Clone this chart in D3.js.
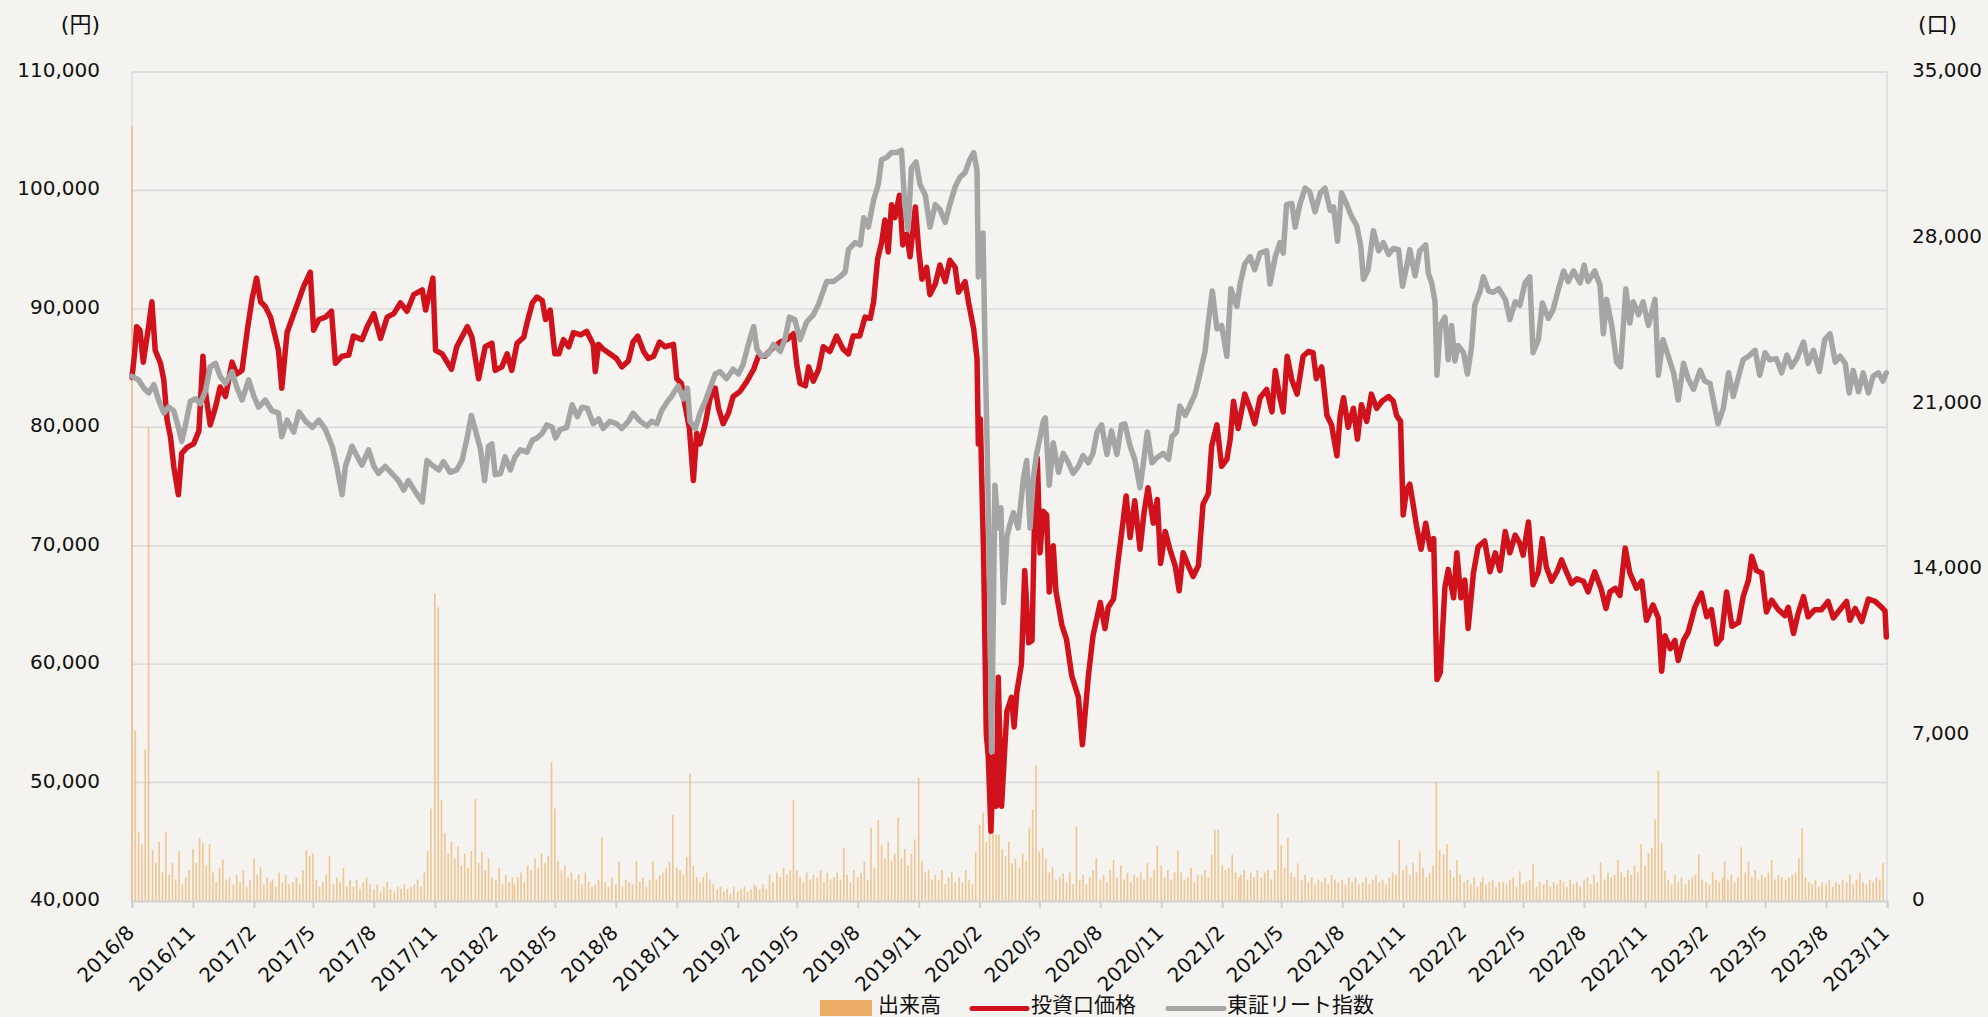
<!DOCTYPE html>
<html><head><meta charset="utf-8">
<script src="https://cdn.jsdelivr.net/npm/d3@7"></script>
<style>
html,body{margin:0;padding:0;background:#f4f3ef;}
svg{display:block;}
</style></head><body>
<svg id="chart" width="1988" height="1017"></svg>
<script>
// ---- data ----
const xTickLabels = ["2016/8","2016/11","2017/2","2017/5","2017/8","2017/11","2018/2","2018/5","2018/8","2018/11","2019/2","2019/5","2019/8","2019/11","2020/2","2020/5","2020/8","2020/11","2021/2","2021/5","2021/8","2021/11","2022/2","2022/5","2022/8","2022/11","2023/2","2023/5","2023/8","2023/11"];
const leftTicks = [40000,50000,60000,70000,80000,90000,100000,110000];
const rightTicks = [0,7000,14000,21000,28000,35000];
const legendLabels = ["出来高","投資口価格","東証リート指数"];

// 投資口価格 (円)
const priceSeries = [["2016-08-01",84200],["2016-08-05",86300],["2016-08-08",88500],["2016-08-13",88200],["2016-08-18",85500],["2016-08-26",88500],["2016-08-31",90600],["2016-09-05",86500],["2016-09-13",85400],["2016-09-18",84000],["2016-09-23",80600],["2016-09-28",79200],["2016-10-03",76700],["2016-10-10",74300],["2016-10-15",77800],["2016-10-23",78300],["2016-11-02",78600],["2016-11-10",79700],["2016-11-16",86000],["2016-11-20",82900],["2016-11-27",80200],["2016-12-05",81700],["2016-12-12",83400],["2016-12-20",82600],["2016-12-30",85500],["2017-01-06",84500],["2017-01-14",84800],["2017-01-22",88200],["2017-01-29",90800],["2017-02-05",92600],["2017-02-11",90600],["2017-02-18",90200],["2017-02-26",89300],["2017-03-05",87700],["2017-03-10",86500],["2017-03-15",83300],["2017-03-23",88000],["2017-03-30",89100],["2017-04-10",90800],["2017-04-17",91900],["2017-04-27",93100],["2017-05-02",88200],["2017-05-10",89100],["2017-05-20",89300],["2017-05-29",89800],["2017-06-04",85400],["2017-06-14",86000],["2017-06-24",86100],["2017-07-01",87700],["2017-07-14",87400],["2017-07-22",88500],["2017-08-01",89600],["2017-08-11",87500],["2017-08-21",89300],["2017-08-31",89600],["2017-09-10",90500],["2017-09-20",89800],["2017-09-30",91200],["2017-10-13",91600],["2017-10-18",89900],["2017-10-29",92600],["2017-11-02",86500],["2017-11-12",86200],["2017-11-26",84900],["2017-12-04",86800],["2017-12-20",88500],["2017-12-27",87600],["2018-01-06",84100],["2018-01-16",86800],["2018-01-26",87100],["2018-01-31",84800],["2018-02-10",85100],["2018-02-18",86200],["2018-02-25",84800],["2018-03-05",87100],["2018-03-15",87600],["2018-03-20",88800],["2018-03-28",90500],["2018-04-04",91000],["2018-04-12",90700],["2018-04-17",89100],["2018-04-24",89900],["2018-05-01",86200],["2018-05-07",86200],["2018-05-14",87400],["2018-05-22",86800],["2018-05-29",88000],["2018-06-09",87800],["2018-06-18",88100],["2018-06-28",87000],["2018-07-01",84700],["2018-07-06",87000],["2018-07-13",86600],["2018-07-23",86200],["2018-08-02",85800],["2018-08-10",85100],["2018-08-20",85600],["2018-08-27",87200],["2018-09-03",87700],["2018-09-12",86400],["2018-09-19",85800],["2018-09-27",86000],["2018-10-06",87200],["2018-10-14",86800],["2018-10-27",87000],["2018-11-01",84100],["2018-11-08",83700],["2018-11-13",82000],["2018-11-20",79900],["2018-11-26",75500],["2018-12-01",79500],["2018-12-06",78600],["2018-12-14",80300],["2018-12-21",82400],["2018-12-29",83300],["2019-01-03",81600],["2019-01-10",80300],["2019-01-18",81200],["2019-01-25",82600],["2019-02-04",83000],["2019-02-15",83900],["2019-02-25",84900],["2019-03-04",86000],["2019-03-14",86000],["2019-03-24",86600],["2019-04-06",87200],["2019-04-16",87400],["2019-04-26",87900],["2019-05-01",85300],["2019-05-06",83700],["2019-05-14",83500],["2019-05-19",85100],["2019-05-26",83900],["2019-06-03",84900],["2019-06-10",86800],["2019-06-20",86400],["2019-06-30",87700],["2019-07-10",86600],["2019-07-18",86200],["2019-07-25",87700],["2019-08-04",87700],["2019-08-12",89300],["2019-08-20",89200],["2019-08-25",90600],["2019-08-31",94200],["2019-09-06",95600],["2019-09-11",97500],["2019-09-16",94800],["2019-09-21",98800],["2019-09-26",97700],["2019-10-03",99600],["2019-10-08",95400],["2019-10-14",96300],["2019-10-19",94400],["2019-10-27",98600],["2019-11-01",95000],["2019-11-06",92500],["2019-11-13",93500],["2019-11-18",91200],["2019-11-26",92100],["2019-12-03",93700],["2019-12-11",92300],["2019-12-18",94100],["2019-12-26",93500],["2019-12-31",91400],["2020-01-10",92300],["2020-01-15",90600],["2020-01-23",88300],["2020-01-28",85800],["2020-01-30",78600],["2020-02-02",80700],["2020-02-07",69000],["2020-02-11",54100],["2020-02-14",52200],["2020-02-18",45900],["2020-02-22",52200],["2020-02-26",48000],["2020-02-29",58900],["2020-03-05",48000],["2020-03-13",56000],["2020-03-20",57200],["2020-03-24",54700],["2020-03-28",57600],["2020-04-04",60000],["2020-04-09",67900],["2020-04-15",61800],["2020-04-20",62000],["2020-04-25",75700],["2020-04-28",77400],["2020-05-02",69400],["2020-05-07",72900],["2020-05-12",72600],["2020-05-16",66100],["2020-05-22",70000],["2020-05-26",66200],["2020-06-04",63300],["2020-06-11",62100],["2020-06-19",59000],["2020-06-29",57200],["2020-07-05",53200],["2020-07-14",59000],["2020-07-21",62400],["2020-08-01",65200],["2020-08-08",63000],["2020-08-13",64800],["2020-08-21",65500],["2020-08-28",68800],["2020-09-02",71000],["2020-09-09",74200],["2020-09-15",70700],["2020-09-22",73800],["2020-09-30",69700],["2020-10-06",72800],["2020-10-12",74900],["2020-10-20",71900],["2020-10-26",73900],["2020-10-31",68500],["2020-11-07",71200],["2020-11-14",69700],["2020-11-22",68300],["2020-11-28",66200],["2020-12-04",69400],["2020-12-12",68300],["2020-12-19",67400],["2020-12-27",68300],["2021-01-03",73500],["2021-01-11",74400],["2021-01-16",78400],["2021-01-24",80200],["2021-01-31",76700],["2021-02-08",77300],["2021-02-13",79000],["2021-02-18",82200],["2021-02-25",79900],["2021-03-07",82800],["2021-03-15",81600],["2021-03-22",80300],["2021-03-30",82500],["2021-04-09",83200],["2021-04-17",81300],["2021-04-22",84800],["2021-04-29",82500],["2021-05-04",81300],["2021-05-10",86000],["2021-05-17",84000],["2021-05-25",82800],["2021-06-03",86000],["2021-06-11",86400],["2021-06-18",86300],["2021-06-23",84100],["2021-07-01",85100],["2021-07-09",81000],["2021-07-16",80200],["2021-07-24",77600],["2021-07-29",81000],["2021-08-03",82500],["2021-08-10",80000],["2021-08-18",81600],["2021-08-24",79000],["2021-08-30",81900],["2021-09-07",80500],["2021-09-14",82800],["2021-09-22",81600],["2021-09-30",82200],["2021-10-10",82600],["2021-10-17",82200],["2021-10-22",81000],["2021-10-28",80500],["2021-11-01",72600],["2021-11-06",74700],["2021-11-11",75200],["2021-11-16",73500],["2021-11-21",71700],["2021-11-28",69700],["2021-12-05",71900],["2021-12-12",69700],["2021-12-17",70600],["2021-12-22",58700],["2021-12-27",59300],["2022-01-03",66500],["2022-01-08",68000],["2022-01-16",65600],["2022-01-21",69400],["2022-01-27",65600],["2022-02-02",67100],["2022-02-07",63000],["2022-02-15",67700],["2022-02-22",69900],["2022-03-04",70400],["2022-03-12",67800],["2022-03-20",69400],["2022-03-27",67900],["2022-04-04",71200],["2022-04-11",69400],["2022-04-19",70900],["2022-04-26",70200],["2022-05-01",69200],["2022-05-09",72000],["2022-05-16",66700],["2022-05-24",67800],["2022-05-30",70600],["2022-06-05",68200],["2022-06-13",67000],["2022-06-21",67800],["2022-06-28",68800],["2022-07-06",67700],["2022-07-13",66800],["2022-07-21",67200],["2022-07-31",67000],["2022-08-07",66100],["2022-08-17",67800],["2022-08-27",66300],["2022-09-03",64700],["2022-09-09",66100],["2022-09-17",66400],["2022-09-24",65800],["2022-10-02",69800],["2022-10-09",67700],["2022-10-19",66400],["2022-10-27",67000],["2022-11-03",63700],["2022-11-13",65000],["2022-11-21",63900],["2022-11-26",59400],["2022-12-01",62400],["2022-12-09",61300],["2022-12-16",62000],["2022-12-21",60300],["2022-12-29",62000],["2023-01-05",62700],["2023-01-15",64800],["2023-01-25",66000],["2023-02-02",64000],["2023-02-09",64600],["2023-02-17",61700],["2023-02-24",62200],["2023-03-04",66100],["2023-03-12",63200],["2023-03-22",63500],["2023-03-29",65700],["2023-04-06",67100],["2023-04-11",69100],["2023-04-18",67900],["2023-04-26",67700],["2023-05-03",64400],["2023-05-11",65400],["2023-05-21",64600],["2023-05-31",64100],["2023-06-05",64800],["2023-06-13",62600],["2023-06-20",64300],["2023-06-28",65700],["2023-07-05",64000],["2023-07-15",64600],["2023-07-25",64600],["2023-08-04",65300],["2023-08-12",63900],["2023-08-22",64600],["2023-09-01",65300],["2023-09-06",63700],["2023-09-14",64700],["2023-09-24",63600],["2023-10-04",65500],["2023-10-14",65300],["2023-10-24",64800],["2023-10-29",64500],["2023-10-31",62300]];

// 東証リート指数 (投資口価格に合わせて指数化)
const reitSeries = [["2016-08-01",84300],["2016-08-11",84000],["2016-08-19",83300],["2016-08-26",82900],["2016-09-03",83600],["2016-09-10",82300],["2016-09-18",81200],["2016-09-25",81700],["2016-10-03",81400],["2016-10-10",80000],["2016-10-15",78800],["2016-10-20",80000],["2016-10-28",82200],["2016-11-05",82400],["2016-11-12",82000],["2016-11-20",83100],["2016-11-27",85100],["2016-12-05",85400],["2016-12-12",84300],["2016-12-20",83700],["2016-12-30",84700],["2017-01-06",83400],["2017-01-14",82300],["2017-01-24",84000],["2017-02-01",82600],["2017-02-08",81700],["2017-02-18",82300],["2017-02-28",81400],["2017-03-10",81200],["2017-03-15",79200],["2017-03-23",80600],["2017-04-02",79600],["2017-04-10",81300],["2017-04-20",80500],["2017-04-30",80000],["2017-05-10",80600],["2017-05-20",79800],["2017-05-30",78400],["2017-06-06",76700],["2017-06-14",74300],["2017-06-19",76700],["2017-06-29",78400],["2017-07-07",77500],["2017-07-14",76800],["2017-07-24",78100],["2017-08-01",76700],["2017-08-08",76100],["2017-08-18",76700],["2017-08-28",76100],["2017-09-07",75500],["2017-09-15",74700],["2017-09-22",75500],["2017-10-03",74500],["2017-10-13",73700],["2017-10-20",77200],["2017-10-28",76800],["2017-11-07",76400],["2017-11-14",77100],["2017-11-24",76200],["2017-12-04",76400],["2017-12-12",77200],["2017-12-20",79200],["2017-12-26",81000],["2018-01-01",79800],["2018-01-09",78100],["2018-01-15",75500],["2018-01-21",78400],["2018-01-26",78600],["2018-01-31",76000],["2018-02-08",76100],["2018-02-15",77500],["2018-02-23",76400],["2018-03-02",77500],["2018-03-10",78100],["2018-03-20",77900],["2018-03-28",78900],["2018-04-04",79100],["2018-04-12",79500],["2018-04-19",80200],["2018-04-27",80000],["2018-05-02",79100],["2018-05-09",79800],["2018-05-19",80000],["2018-05-27",81900],["2018-06-04",80900],["2018-06-11",81700],["2018-06-19",81600],["2018-06-28",80300],["2018-07-06",80700],["2018-07-13",79900],["2018-07-23",80500],["2018-08-02",80300],["2018-08-10",79900],["2018-08-20",80500],["2018-08-27",81200],["2018-09-07",80500],["2018-09-17",80100],["2018-09-24",80500],["2018-10-02",80300],["2018-10-09",81400],["2018-10-17",82100],["2018-10-24",82600],["2018-11-03",83500],["2018-11-11",82400],["2018-11-17",83300],["2018-11-21",80500],["2018-11-29",79900],["2018-12-06",81200],["2018-12-14",82200],["2018-12-21",83300],["2018-12-29",84500],["2019-01-05",84700],["2019-01-15",84100],["2019-01-25",84900],["2019-02-02",84500],["2019-02-09",85300],["2019-02-17",87000],["2019-02-25",88500],["2019-03-02",86600],["2019-03-09",86000],["2019-03-19",86200],["2019-03-27",87000],["2019-04-06",86400],["2019-04-13",87400],["2019-04-20",89300],["2019-04-28",89100],["2019-05-06",87400],["2019-05-16",88900],["2019-05-26",89500],["2019-06-03",90400],["2019-06-08",91200],["2019-06-15",92300],["2019-06-25",92300],["2019-07-05",92700],["2019-07-13",93100],["2019-07-18",95000],["2019-07-28",95600],["2019-08-05",95400],["2019-08-10",97700],["2019-08-17",96900],["2019-08-25",99200],["2019-09-01",100500],["2019-09-06",102600],["2019-09-14",102800],["2019-09-21",103200],["2019-09-29",103200],["2019-10-06",103400],["2019-10-11",98800],["2019-10-16",96700],["2019-10-21",101900],["2019-10-28",102400],["2019-11-03",100500],["2019-11-11",99600],["2019-11-18",96900],["2019-11-26",98800],["2019-12-03",98400],["2019-12-11",97300],["2019-12-18",98800],["2019-12-26",100300],["2020-01-02",101100],["2020-01-10",101500],["2020-01-17",102600],["2020-01-23",103200],["2020-01-28",101700],["2020-01-30",92700],["2020-02-06",96400],["2020-02-09",87000],["2020-02-12",79100],["2020-02-16",67300],["2020-02-19",52600],["2020-02-24",75100],["2020-02-29",71500],["2020-03-04",73200],["2020-03-08",65200],["2020-03-13",70700],["2020-03-18",71900],["2020-03-23",72800],["2020-03-30",71500],["2020-04-07",75700],["2020-04-12",77200],["2020-04-17",71500],["2020-04-22",75700],["2020-04-27",77800],["2020-05-02",79100],["2020-05-07",80500],["2020-05-10",80800],["2020-05-16",75100],["2020-05-22",78700],["2020-05-30",76200],["2020-06-06",77800],["2020-06-14",77000],["2020-06-21",76100],["2020-06-29",76700],["2020-07-06",77600],["2020-07-14",77000],["2020-07-21",77800],["2020-07-27",79600],["2020-08-03",80200],["2020-08-11",77700],["2020-08-18",79700],["2020-08-26",77700],["2020-09-02",80200],["2020-09-07",80300],["2020-09-15",78400],["2020-09-22",77300],["2020-09-30",74900],["2020-10-05",77000],["2020-10-11",79600],["2020-10-18",77000],["2020-10-25",77400],["2020-11-04",77800],["2020-11-12",77300],["2020-11-17",79200],["2020-11-24",79600],["2020-11-29",81800],["2020-12-07",81000],["2020-12-14",81800],["2020-12-22",82800],["2020-12-29",84400],["2021-01-06",86400],["2021-01-11",88900],["2021-01-17",91500],["2021-01-24",88300],["2021-01-31",88600],["2021-02-08",86000],["2021-02-14",91700],["2021-02-23",90200],["2021-02-28",92100],["2021-03-07",93800],["2021-03-15",94400],["2021-03-22",93300],["2021-03-30",94700],["2021-04-09",94900],["2021-04-14",92100],["2021-04-22",94400],["2021-04-29",95600],["2021-05-04",94700],["2021-05-09",98800],["2021-05-17",98900],["2021-05-22",96900],["2021-05-29",98800],["2021-06-06",100200],["2021-06-13",99900],["2021-06-21",98200],["2021-06-29",99800],["2021-07-06",100200],["2021-07-14",98300],["2021-07-19",98600],["2021-07-25",95700],["2021-07-31",99800],["2021-08-08",98800],["2021-08-15",97800],["2021-08-23",97000],["2021-08-29",95300],["2021-09-02",92500],["2021-09-09",93300],["2021-09-17",96600],["2021-09-25",94900],["2021-10-02",95600],["2021-10-10",94600],["2021-10-17",95100],["2021-10-25",95000],["2021-10-31",91900],["2021-11-06",93500],["2021-11-11",95000],["2021-11-19",92800],["2021-11-26",94900],["2021-12-05",95400],["2021-12-09",93000],["2021-12-14",92200],["2021-12-19",90600],["2021-12-22",84400],["2021-12-27",88600],["2022-01-03",89300],["2022-01-08",85700],["2022-01-13",88600],["2022-01-18",85600],["2022-01-23",86900],["2022-01-31",86300],["2022-02-06",84500],["2022-02-12",86700],["2022-02-17",90300],["2022-02-25",91500],["2022-03-02",92700],["2022-03-10",91500],["2022-03-17",91400],["2022-03-25",91700],["2022-04-04",90800],["2022-04-11",89100],["2022-04-19",90600],["2022-04-26",90300],["2022-05-04",92200],["2022-05-11",92700],["2022-05-16",86300],["2022-05-24",87400],["2022-05-30",90500],["2022-06-08",89200],["2022-06-15",89900],["2022-06-23",91600],["2022-07-01",93200],["2022-07-08",92300],["2022-07-16",93200],["2022-07-26",92200],["2022-08-01",93700],["2022-08-07",92300],["2022-08-17",93200],["2022-08-25",92000],["2022-08-30",87900],["2022-09-04",90800],["2022-09-12",88500],["2022-09-19",85500],["2022-09-25",85100],["2022-10-03",91700],["2022-10-09",88800],["2022-10-14",90600],["2022-10-22",89500],["2022-10-29",90600],["2022-11-06",88600],["2022-11-16",90800],["2022-11-21",84400],["2022-11-28",87400],["2022-12-06",86000],["2022-12-14",84600],["2022-12-21",82300],["2022-12-29",85400],["2023-01-05",84100],["2023-01-13",83200],["2023-01-23",84800],["2023-01-30",83900],["2023-02-07",83700],["2023-02-14",81700],["2023-02-19",80300],["2023-02-27",81600],["2023-03-07",84600],["2023-03-14",82600],["2023-03-22",84300],["2023-03-29",85700],["2023-04-06",86000],["2023-04-16",86500],["2023-04-23",84400],["2023-05-01",86300],["2023-05-08",85700],["2023-05-18",85800],["2023-05-26",84600],["2023-06-03",86100],["2023-06-10",85100],["2023-06-18",85800],["2023-06-28",87200],["2023-07-05",85400],["2023-07-13",86500],["2023-07-22",84700],["2023-07-30",87400],["2023-08-07",87900],["2023-08-15",85500],["2023-08-22",86000],["2023-08-30",85400],["2023-09-05",82900],["2023-09-11",84800],["2023-09-19",83000],["2023-09-26",84600],["2023-10-04",82900],["2023-10-11",84300],["2023-10-19",84600],["2023-10-26",83900],["2023-10-31",84600]];

// 出来高 (口): months and six readings per month (about every 5 days)
const volumeMonths = ["2016-08","2016-09","2016-10","2016-11","2016-12","2017-01","2017-02","2017-03","2017-04","2017-05","2017-06","2017-07","2017-08","2017-09","2017-10","2017-11","2017-12","2018-01","2018-02","2018-03","2018-04","2018-05","2018-06","2018-07","2018-08","2018-09","2018-10","2018-11","2018-12","2019-01","2019-02","2019-03","2019-04","2019-05","2019-06","2019-07","2019-08","2019-09","2019-10","2019-11","2019-12","2020-01","2020-02","2020-03","2020-04","2020-05","2020-06","2020-07","2020-08","2020-09","2020-10","2020-11","2020-12","2021-01","2021-02","2021-03","2021-04","2021-05","2021-06","2021-07","2021-08","2021-09","2021-10","2021-11","2021-12","2022-01","2022-02","2022-03","2022-04","2022-05","2022-06","2022-07","2022-08","2022-09","2022-10","2022-11","2022-12","2023-01","2023-02","2023-03","2023-04","2023-05","2023-06","2023-07","2023-08","2023-09","2023-10"];
const volumeByMonth = [
[32700,7200,2900,2400,6400,20000],[2150,1600,2500,1200,2930,1100],[1600,900,2100,700,1000,1300],[2200,1600,2650,2450,1500,2400],[1200,800,1400,1750,900,1000],
[700,1100,800,1300,600,900],[1800,1100,1420,700,1000,800],[900,600,1200,800,1100,700],[800,1000,700,1300,2150,1900],[2000,900,600,800,1100,1900],[700,1000,800,1400,600,900],[600,900,500,800,1000,700],[500,700,400,600,800,500],[400,600,500,700,500,600],[700,900,600,1200,2100,3900],[13000,12400,4260,2870,2000,2500],[1800,2300,1500,2000,1400,2100],
[4300,1600,2080,1300,1800,1000],[900,1400,700,1100,800,1000],[700,1000,1200,800,1500,1300],[1800,1400,2000,1600,1900,5880],[3900,1700,1300,1500,1000,1200],[900,1100,700,1200,800,600],[700,900,2710,800,600,1000],[700,1650,600,900,800,700],[1700,800,1000,600,900,1690],[900,1100,1200,1400,1650,3630],[1400,1300,1100,1860,5360,1500],[1000,800,1000,1200,900,700],
[500,600,400,500,300,600],[400,500,600,400,500,700],[600,500,700,500,1100,800],[1200,1000,1400,1100,1300,4260],[1300,1000,800,1200,900,1100],[1000,1300,800,1200,900,1000],[1200,900,2250,1100,800,1300],[1000,1200,1650,900,3100,1400],[3420,2360,1800,2500,1700,2000],[3520,1800,2200,1500,2000,2600],[5200,1700,1200,1300,900,1100],[900,1300,700,1000,1200,800],
[1000,800,1300,900,700,2060],[3210,3730,2500,3000,3420,2800],[2800,2200,1900,2500,1600,1800],[1400,2000,1700,3100,3860,5740],[2090,2230,1800,1200,1420,900],[1000,1160,800,1200,700,3150],[900,1100,700,1000,1300,1800],[900,1100,800,1300,1730,1000],[1500,900,1200,800,1100,1000],[1200,900,1600,1000,1300,2330],[1500,1000,1300,900,1200,2120],[1200,900,1000,1400,800,1100],
[1100,1300,1000,1950,3000,3000],[1500,1300,1400,1950,1200,1000],[1100,1300,900,1200,1000,1300],[1000,1200,1300,900,1300,3680],[2370,1400,2660,1200,1000,1590],[900,1100,800,1000,700,900],[800,1000,700,1100,900,800],[900,700,1000,800,1000,700],[800,1000,700,900,1100,800],[900,700,1000,1200,1100,2580],[1300,1500,1100,1600,1200,2090],[1400,1000,1200,1500,5040,2160],
[1950,2400,1300,1000,1730,1100],[800,900,700,1000,600,800],[1020,700,800,900,600,800],[800,700,900,1000,600,1260],[700,800,900,1550,600,800],[700,900,600,800,700,900],[800,600,900,700,800,600],[900,1000,700,1100,800,1630],[900,1200,1000,1100,1730,1200],[1000,1300,1100,1500,1200,2400],[1500,2020,2240,3440,5500,2440],[1270,900,700,1100,800,1000],
[700,900,1000,1100,1940,900],[800,700,1240,900,800,1000],[1650,900,1100,800,1000,2270],[1200,1650,1000,1300,900,1100],[1000,1200,1730,900,1100,1000],[900,1000,1100,1200,1800,3080],[1000,800,700,900,600,800],[700,890,600,800,700,900],[800,1110,700,900,1180,800],[700,900,800,1000,900,1600]
];

// ---- chart ----
const svg = d3.select("#chart");
const plot = {left:132, right:1887, top:72, bottom:901};
const parseDay = d3.timeParse("%Y-%m-%d");
const parseLabel = d3.timeParse("%Y/%m");
const parseMonth = d3.timeParse("%Y-%m");
const tickDates = xTickLabels.map(parseLabel);

const x = d3.scaleTime().domain([tickDates[0], tickDates[tickDates.length-1]]).range([plot.left, plot.right]);
const yL = d3.scaleLinear().domain([leftTicks[0], leftTicks[leftTicks.length-1]]).range([plot.bottom, plot.top]);
const yR = d3.scaleLinear().domain([rightTicks[0], rightTicks[rightTicks.length-1]]).range([plot.bottom, plot.top]);

const gridColor = "#d8d8d8";
const numFont = "'DejaVu Sans', Verdana, sans-serif";
const jpFont = "'Noto Sans CJK JP', 'Noto Sans', sans-serif";

// background
svg.append("rect").attr("width",1988).attr("height",1017).attr("fill","#f4f3ef");

// gridlines
svg.append("g").selectAll("line").data(leftTicks.slice(1)).join("line")
  .attr("x1", plot.left).attr("x2", plot.right)
  .attr("y1", d => yL(d)).attr("y2", d => yL(d))
  .attr("stroke", gridColor).attr("stroke-width", 1.4);
// frame verticals
svg.append("line").attr("x1",plot.left).attr("x2",plot.left).attr("y1",plot.top).attr("y2",plot.bottom)
  .attr("stroke",gridColor).attr("stroke-width",1.4);
svg.append("line").attr("x1",plot.right).attr("x2",plot.right).attr("y1",plot.top).attr("y2",plot.bottom)
  .attr("stroke",gridColor).attr("stroke-width",1.4);

// volume bars
const volData = [];
volumeMonths.forEach((m, i) => {
  const start = parseMonth(m);
  volumeByMonth[i].forEach((v, j) => {
    volData.push({date: d3.timeDay.offset(start, j*5), v});
  });
});
svg.append("g").selectAll("rect").data(volData).join("rect")
  .attr("x", d => x(d.date) - 0.8)
  .attr("width", 1.6)
  .attr("y", d => yR(d.v))
  .attr("height", d => plot.bottom - yR(d.v))
  .attr("fill", "#eeb06a").attr("fill-opacity", 0.7);

// lines
const line = d3.line().x(d => x(parseDay(d[0]))).y(d => yL(d[1])).curve(d3.curveLinear);
svg.append("path").datum(priceSeries).attr("d", line)
  .attr("fill","none").attr("stroke","#d0121c").attr("stroke-width",5.5)
  .attr("stroke-linejoin","round").attr("stroke-linecap","round");
svg.append("path").datum(reitSeries).attr("d", line)
  .attr("fill","none").attr("stroke","#a5a5a5").attr("stroke-width",5.5)
  .attr("stroke-linejoin","round").attr("stroke-linecap","round");

// bottom axis
const xAxis = d3.axisBottom(x).tickValues(tickDates).tickSize(7).tickFormat((d,i) => xTickLabels[i]);
const gx = svg.append("g").attr("transform", `translate(0,${plot.bottom})`).call(xAxis);
gx.select(".domain").attr("stroke","#d0d0d0").attr("stroke-width",2.2);
gx.selectAll(".tick line").attr("stroke","#d0d0d0").attr("stroke-width",2);
gx.selectAll(".tick text")
  .attr("y", 0).attr("dy", null)
  .attr("transform", "translate(3,33) rotate(-45)")
  .attr("text-anchor", "end")
  .attr("font-family", numFont).attr("font-size", 20).attr("fill", "#111");

// left axis
const gl = svg.append("g").attr("transform", "translate(100,0)")
  .call(d3.axisLeft(yL).tickValues(leftTicks).tickSize(0).tickFormat(d3.format(",")));
gl.select(".domain").remove();
gl.selectAll(".tick text").attr("x",0).attr("dy",null).attr("y",4.5)
  .attr("text-anchor","end").attr("font-family",numFont).attr("font-size",20).attr("fill","#111");

// right axis
const gr = svg.append("g").attr("transform", "translate(1912,0)")
  .call(d3.axisRight(yR).tickValues(rightTicks).tickSize(0).tickFormat(d3.format(",")));
gr.select(".domain").remove();
gr.selectAll(".tick text").attr("x",0).attr("dy",null).attr("y",4.5)
  .attr("text-anchor","start").attr("font-family",numFont).attr("font-size",20).attr("fill","#111");

// unit labels
svg.append("text").attr("x",100).attr("y",32).attr("text-anchor","end")
  .attr("font-family", "'DejaVu Sans', 'Noto Sans CJK JP', sans-serif").attr("font-size",22).attr("fill","#111").text("(円)");
svg.append("text").attr("x",1918).attr("y",32).attr("text-anchor","start")
  .attr("font-family", "'DejaVu Sans', 'Noto Sans CJK JP', sans-serif").attr("font-size",22).attr("fill","#111").text("(口)");

// legend
const lg = svg.append("g");
lg.append("rect").attr("x",820).attr("y",1000).attr("width",52).attr("height",16).attr("fill","#edae67");
lg.append("text").attr("x",878).attr("y",1011.5).text(legendLabels[0]);
lg.append("line").attr("x1",972).attr("x2",1027).attr("y1",1008.5).attr("y2",1008.5)
  .attr("stroke","#d0121c").attr("stroke-width",5).attr("stroke-linecap","round");
lg.append("text").attr("x",1031).attr("y",1011.5).text(legendLabels[1]);
lg.append("line").attr("x1",1168).attr("x2",1224).attr("y1",1008.5).attr("y2",1008.5)
  .attr("stroke","#a5a5a5").attr("stroke-width",5).attr("stroke-linecap","round");
lg.append("text").attr("x",1227).attr("y",1011.5).text(legendLabels[2]);
lg.selectAll("text").attr("font-family",jpFont).attr("font-size",21).attr("fill","#111");
</script>
</body></html>
